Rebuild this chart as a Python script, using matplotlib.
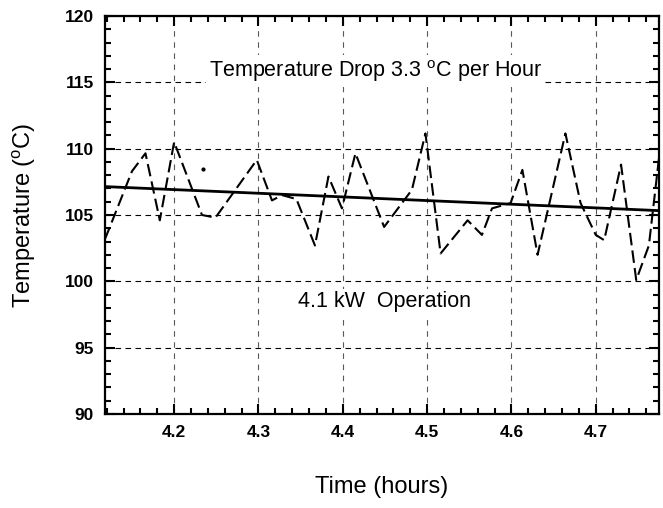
import matplotlib
matplotlib.use("Agg")
import matplotlib.pyplot as plt
from matplotlib.ticker import MultipleLocator

plt.rcParams['font.family'] = ['Liberation Sans', 'DejaVu Sans']

# Measured temperature (dashed)
time_h = [4.118, 4.120, 4.150, 4.166, 4.183, 4.200, 4.233, 4.249, 4.298, 4.316,
          4.328, 4.345, 4.367, 4.383, 4.399, 4.415, 4.449, 4.482, 4.498, 4.516,
          4.548, 4.565, 4.577, 4.599, 4.613, 4.631, 4.664, 4.682, 4.700, 4.710,
          4.730, 4.748, 4.763, 4.775]
temp_c = [103.2, 103.5, 108.3, 109.65, 104.6, 110.5, 105.0, 104.8, 109.15, 106.1,
          106.5, 106.2, 102.7, 107.9, 105.5, 109.65, 104.1, 106.9, 111.15, 102.1,
          104.6, 103.5, 105.5, 105.9, 108.4, 102.0, 111.15, 105.9, 103.5, 103.1,
          108.8, 100.1, 102.7, 109.3]

# Stray mark
stray_x = [4.234]
stray_y = [108.5]

# Linear trend
trend_x = [4.118, 4.775]
trend_y = [107.14, 105.33]

x_ticks = [4.2, 4.3, 4.4, 4.5, 4.6, 4.7]
y_ticks = [90, 95, 100, 105, 110, 115, 120]

fig = plt.figure(figsize=(6.63, 5.08), dpi=100)
ax = fig.add_axes([105/663, 1-414/508, (659-105)/663, (414-16)/508])

ax.plot(time_h, temp_c, color='black', lw=1.5, linestyle=(0, (6, 2.5)), zorder=3)
ax.plot(stray_x, stray_y, 'o', color='black', ms=2, zorder=3)
ax.plot(trend_x, trend_y, color='black', lw=2.0, zorder=4)

ax.set_xlim(4.118, 4.775)
ax.set_ylim(90, 120)
ax.set_xticks(x_ticks)
ax.set_xticklabels([f'{v:.1f}' for v in x_ticks])
ax.set_yticks(y_ticks)
ax.xaxis.set_minor_locator(MultipleLocator(0.02))
ax.yaxis.set_minor_locator(MultipleLocator(1))

ax.tick_params(which='both', direction='in', top=True, right=True, width=1.5)
ax.tick_params(which='major', length=7, labelsize=12.5, pad=8)
ax.tick_params(which='minor', length=4)
for lab in ax.get_xticklabels() + ax.get_yticklabels():
    lab.set_fontweight('bold')
for s in ax.spines.values():
    s.set_linewidth(1.6)

ax.grid(True, which='major', axis='y', color='black', lw=0.8, linestyle=(0, (5, 4)))
ax.grid(True, which='major', axis='x', color='0.35', lw=0.8, linestyle=(0, (5, 5)))
ax.set_axisbelow(True)

ax.set_xlabel('Time (hours)', fontsize=17)
ax.xaxis.set_label_coords(0.5, -(487-414)/398)
ax.xaxis.label.set_va('center')
ax.set_ylabel(r'Temperature ($\mathregular{^{o}}$C)', fontsize=17)
ax.yaxis.set_label_coords((24-105)/554, 0.5)
ax.yaxis.label.set_va('center')

ax.text(4.439, 115.85, r'Temperature Drop 3.3 $\mathregular{^{o}}$C per Hour',
        fontsize=15.5, ha='center', va='center', zorder=5,
        bbox=dict(facecolor='white', edgecolor='none', pad=2))
ax.text(4.45, 98.45, '4.1 kW  Operation', fontsize=15.5, ha='center', va='center',
        zorder=5, bbox=dict(facecolor='white', edgecolor='none', pad=2))

fig.savefig('out.png', dpi=100)
